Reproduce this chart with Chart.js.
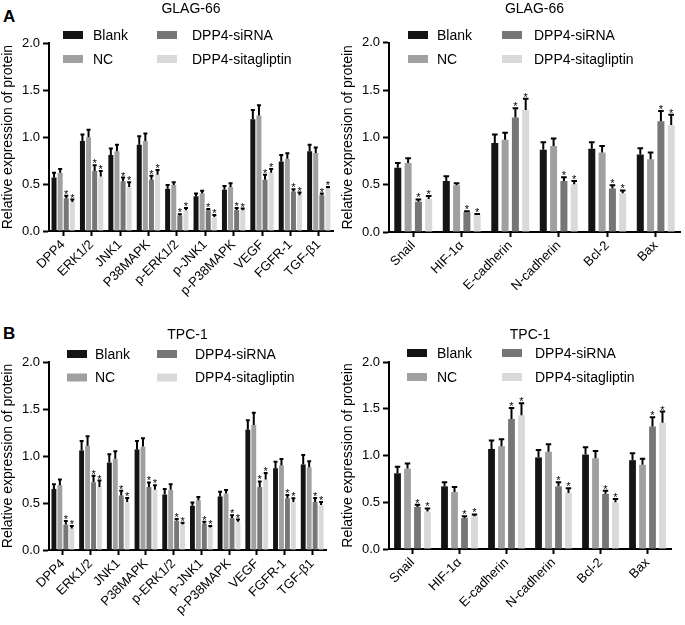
<!DOCTYPE html>
<html>
<head>
<meta charset="utf-8">
<script src="https://cdn.jsdelivr.net/npm/chart.js@4.4.1/dist/chart.umd.min.js"></script>
<style>
  body { margin: 0; background: #fff; width: 685px; height: 625px; position: relative; overflow: hidden;
         font-family: Arial, "Liberation Sans", sans-serif; }
  canvas { position: absolute; }
  .tag { position: absolute; font-weight: bold; font-size: 17px; line-height: 1; }
</style>
</head>
<body>
<div class="tag" style="left:3px;top:8px">A</div>
<div class="tag" style="left:3px;top:325px">B</div>
<canvas id="glagProt" width="340" height="310" style="left:0;top:0"></canvas>
<canvas id="glagEmt" width="345" height="310" style="left:340px;top:0"></canvas>
<canvas id="tpcProt" width="340" height="315" style="left:0;top:310px"></canvas>
<canvas id="tpcEmt" width="345" height="315" style="left:340px;top:310px"></canvas>
<script>
const FONT = 'Arial, "Liberation Sans", sans-serif';

// categories
const proteinLabels = ["DPP4", "ERK1/2", "JNK1", "P38MAPK", "p-ERK1/2", "p-JNK1", "p-P38MAPK", "VEGF", "FGFR-1", "TGF-β1"];
const emtLabels = ["Snail", "HIF-1α", "E-cadherin", "N-cadherin", "Bcl-2", "Bax"];
const seriesNames = ["Blank", "NC", "DPP4-siRNA", "DPP4-sitagliptin"];
const seriesColors = ["#141414", "#a0a0a0", "#767676", "#d9d9d9"];
const starSeries = [2, 3]; // * vs NC
const yTicks = [0, 0.5, 1.0, 1.5, 2.0];

// GLAG-66, proteins
const glagProtBlank   = [0.57, 0.96, 0.81, 0.92, 0.45, 0.37, 0.44, 1.19, 0.74, 0.85];
const glagProtBlankSD = [0.06, 0.08, 0.08, 0.10, 0.05, 0.04, 0.05, 0.11, 0.08, 0.08];
const glagProtNC      = [0.62, 1.00, 0.85, 0.96, 0.49, 0.40, 0.47, 1.23, 0.77, 0.83];
const glagProtNCSD    = [0.05, 0.09, 0.08, 0.09, 0.04, 0.04, 0.05, 0.12, 0.07, 0.07];
const glagProtSi      = [0.35, 0.64, 0.53, 0.545, 0.165, 0.22, 0.225, 0.545, 0.42, 0.38];
const glagProtSiSD    = [0.035, 0.07, 0.05, 0.055, 0.025, 0.025, 0.03, 0.065, 0.035, 0.03];
const glagProtSita    = [0.31, 0.58, 0.47, 0.60, 0.22, 0.15, 0.22, 0.62, 0.38, 0.455];
const glagProtSitaSD  = [0.035, 0.07, 0.06, 0.06, 0.035, 0.03, 0.03, 0.05, 0.04, 0.025];

// GLAG-66, EMT / apoptosis
const glagEmtBlank   = [0.68, 0.54, 0.94, 0.87, 0.88, 0.82];
const glagEmtBlankSD = [0.06, 0.06, 0.10, 0.09, 0.08, 0.075];
const glagEmtNC      = [0.73, 0.495, 0.975, 0.91, 0.84, 0.77];
const glagEmtNCSD    = [0.06, 0.03, 0.085, 0.09, 0.08, 0.08];
const glagEmtSi      = [0.32, 0.21, 1.21, 0.54, 0.46, 1.17];
const glagEmtSiSD    = [0.035, 0.02, 0.11, 0.05, 0.045, 0.12];
const glagEmtSita    = [0.35, 0.18, 1.29, 0.505, 0.41, 1.13];
const glagEmtSitaSD  = [0.04, 0.02, 0.13, 0.045, 0.04, 0.12];

// TPC-1, proteins
const tpcProtBlank   = [0.65, 1.06, 0.93, 1.07, 0.59, 0.47, 0.57, 1.28, 0.87, 0.91];
const tpcProtBlankSD = [0.06, 0.11, 0.10, 0.10, 0.07, 0.045, 0.06, 0.11, 0.08, 0.11];
const tpcProtNC      = [0.69, 1.11, 0.97, 1.10, 0.64, 0.53, 0.60, 1.33, 0.90, 0.88];
const tpcProtNCSD    = [0.07, 0.11, 0.09, 0.10, 0.07, 0.045, 0.05, 0.14, 0.08, 0.075];
const tpcProtSi      = [0.27, 0.72, 0.58, 0.67, 0.31, 0.28, 0.34, 0.67, 0.55, 0.51];
const tpcProtSiSD    = [0.05, 0.08, 0.06, 0.06, 0.03, 0.03, 0.04, 0.07, 0.045, 0.055];
const tpcProtSita    = [0.23, 0.67, 0.51, 0.64, 0.27, 0.24, 0.30, 0.75, 0.51, 0.48];
const tpcProtSitaSD  = [0.035, 0.08, 0.055, 0.06, 0.03, 0.025, 0.035, 0.08, 0.05, 0.04];

// TPC-1, EMT / apoptosis
const tpcEmtBlank   = [0.81, 0.67, 1.07, 0.98, 1.01, 0.95];
const tpcEmtBlankSD = [0.08, 0.055, 0.10, 0.09, 0.09, 0.085];
const tpcEmtNC      = [0.86, 0.61, 1.10, 1.04, 0.97, 0.90];
const tpcEmtNCSD    = [0.065, 0.065, 0.085, 0.09, 0.09, 0.075];
const tpcEmtSi      = [0.45, 0.33, 1.39, 0.67, 0.59, 1.31];
const tpcEmtSiSD    = [0.035, 0.03, 0.13, 0.055, 0.045, 0.11];
const tpcEmtSita    = [0.40, 0.35, 1.43, 0.60, 0.50, 1.35];
const tpcEmtSitaSD  = [0.045, 0.03, 0.14, 0.06, 0.045, 0.13];

// error bars (mean + SD, upward) and stars
const errorBars = {
  id: "errorBars",
  afterDatasetsDraw(chart) {
    const ctx = chart.ctx, y = chart.scales.y;
    chart.data.datasets.forEach((ds, i) => {
      chart.getDatasetMeta(i).data.forEach((bar, j) => {
        const top = y.getPixelForValue(ds.data[j] + ds.errors[j]);
        const cap = Math.min(bar.width * 0.8, 6);
        ctx.save();
        ctx.strokeStyle = "#000";
        ctx.lineWidth = 2;
        ctx.beginPath();
        ctx.moveTo(bar.x, bar.y);
        ctx.lineTo(bar.x, top);
        ctx.moveTo(bar.x - cap / 2, top + 1);
        ctx.lineTo(bar.x + cap / 2, top + 1);
        ctx.stroke();
        if (ds.starred) {
          ctx.fillStyle = "#000";
          ctx.font = "11px " + FONT;
          ctx.textAlign = "center";
          ctx.fillText("*", bar.x, top + 3);
        }
        ctx.restore();
      });
    });
  }
};

// 2x2 legend sitting over the top of the plot
const gridLegend = {
  id: "gridLegend",
  afterDraw(chart, args, opts) {
    const ctx = chart.ctx;
    ctx.save();
    ctx.font = "14px " + FONT;
    ctx.textBaseline = "middle";
    chart.data.datasets.forEach((ds, i) => {
      const col = opts.cols[Math.floor(i / 2)], yc = opts.rows[i % 2];
      ctx.fillStyle = ds.backgroundColor;
      ctx.fillRect(col[0], yc - 4, 20, 8);
      ctx.fillStyle = "#000";
      ctx.fillText(ds.label, col[1], yc + 1);
    });
    ctx.restore();
  }
};

function makeChart(id, title, labels, series, errors, cfg) {
  return new Chart(document.getElementById(id), {
    type: "bar",
    data: {
      labels: labels,
      datasets: series.map((d, i) => ({
        label: seriesNames[i],
        data: d,
        errors: errors[i],
        starred: starSeries.includes(i),
        backgroundColor: seriesColors[i],
        categoryPercentage: cfg.cat,
        barPercentage: cfg.bar
      }))
    },
    options: {
      responsive: false,
      animation: false,
      layout: { padding: { left: 0, right: cfg.right, top: 0, bottom: 0 } },
      plugins: {
        legend: { display: false },
        tooltip: { enabled: false },
        title: {
          display: true, text: title, fullSize: false, color: "#000",
          font: { size: 14, weight: "normal", family: FONT },
          padding: { top: cfg.titleTop, bottom: cfg.titleBottom }
        },
        gridLegend: { cols: cfg.cols, rows: cfg.rows }
      },
      scales: {
        x: {
          grid: { offset: false, drawOnChartArea: false, tickLength: 5, tickWidth: 2, tickColor: "#000" },
          border: { display: true, color: "#000", width: 2 },
          ticks: { color: "#000", font: { size: 13, family: FONT }, minRotation: 45, maxRotation: 45, autoSkip: false, padding: 1 },
          afterFit: s => { s.height = cfg.xh; }
        },
        y: {
          min: 0, max: 2,
          afterBuildTicks: s => { s.ticks = yTicks.map(v => ({ value: v })); },
          ticks: { color: "#000", font: { size: 13, family: FONT }, padding: 3, callback: v => v.toFixed(1) },
          grid: { drawOnChartArea: false, tickLength: 6, tickWidth: 2, tickColor: "#000" },
          border: { color: "#000", width: 2 },
          title: { display: true, text: "Relative expression of protein", color: "#000", font: { size: 14, family: FONT }, padding: 0 },
          afterFit: s => { s.width = 49; }
        }
      }
    },
    plugins: [errorBars, gridLegend]
  });
}

makeChart("glagProt", "GLAG-66", proteinLabels,
  [glagProtBlank, glagProtNC, glagProtSi, glagProtSita],
  [glagProtBlankSD, glagProtNCSD, glagProtSiSD, glagProtSitaSD],
  { cat: 0.86, bar: 0.82, right: 7, titleTop: 1, titleBottom: 25.5, xh: 79,
    cols: [[63, 93], [157, 192]], rows: [35, 59] });

makeChart("glagEmt", "GLAG-66", emtLabels,
  [glagEmtBlank, glagEmtNC, glagEmtSi, glagEmtSita],
  [glagEmtBlankSD, glagEmtNCSD, glagEmtSiSD, glagEmtSitaSD],
  { cat: 0.85, bar: 0.68, right: 5, titleTop: 1, titleBottom: 25, xh: 78,
    cols: [[68, 97], [162, 194]], rows: [35, 59] });

makeChart("tpcProt", "TPC-1", proteinLabels,
  [tpcProtBlank, tpcProtNC, tpcProtSi, tpcProtSita],
  [tpcProtBlankSD, tpcProtNCSD, tpcProtSiSD, tpcProtSitaSD],
  { cat: 0.86, bar: 0.82, right: 14, titleTop: 17, titleBottom: 18.2, xh: 75,
    cols: [[67, 95], [157, 195]], rows: [44, 67.5] });

makeChart("tpcEmt", "TPC-1", emtLabels,
  [tpcEmtBlank, tpcEmtNC, tpcEmtSi, tpcEmtSita],
  [tpcEmtBlankSD, tpcEmtNCSD, tpcEmtSiSD, tpcEmtSitaSD],
  { cat: 0.85, bar: 0.68, right: 14, titleTop: 17, titleBottom: 18.2, xh: 76,
    cols: [[67, 97], [162, 195]], rows: [43, 67] });
</script>
</body>
</html>
